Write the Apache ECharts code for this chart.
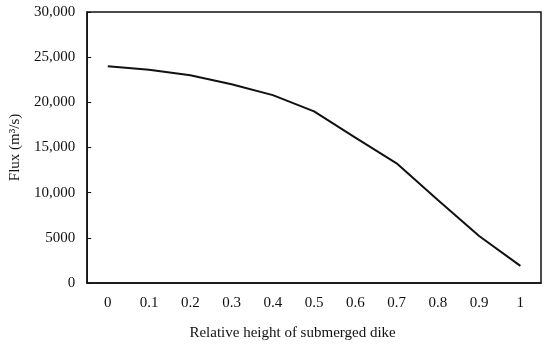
<!DOCTYPE html>
<html>
<head>
<meta charset="utf-8">
<script src="https://cdn.jsdelivr.net/npm/echarts@6/dist/echarts.min.js"></script>
<style>html,body{margin:0;padding:0;background:#fff}#c{width:550px;height:346px}</style>
</head>
<body>
<div id="c"></div>
<script>
var categories = ['0','0.1','0.2','0.3','0.4','0.5','0.6','0.7','0.8','0.9','1'];
var flux = [24000, 23600, 23000, 22000, 20800, 19000, 16100, 13250, 9200, 5200, 1900];
var xTitle = 'Relative height of submerged dike';
var yTitle = 'Flux (m\u00B3/s)';

var chart = echarts.init(document.getElementById('c'), null, {renderer: 'canvas'});
var font = 'Liberation Serif';
chart.setOption({
  animation: false,
  backgroundColor: '#fff',
  grid: {left: 84, right: 9, top: 12, bottom: 63, show: true, borderColor: '#111', borderWidth: 1.5, backgroundColor: 'transparent'},
  xAxis: {
    type: 'category', data: categories, boundaryGap: true,
    name: xTitle, nameLocation: 'middle', nameGap: 43,
    nameTextStyle: {fontFamily: font, fontSize: 15, color: '#111', padding: [0, 43, 0, 0]},
    axisLine: {lineStyle: {color: '#111', width: 1.5}},
    axisTick: {inside: true, alignWithLabel: true, length: 4, lineStyle: {color: '#111'}},
    axisLabel: {fontFamily: font, fontSize: 15, color: '#111', margin: 13},
    splitLine: {show: false}
  },
  yAxis: {
    type: 'value', min: 0, max: 30000, interval: 5000,
    name: yTitle, nameLocation: 'middle', nameGap: 62,
    nameTextStyle: {fontFamily: font, fontSize: 15, color: '#111'},
    axisLine: {show: true, lineStyle: {color: '#111', width: 1.5}},
    axisTick: {show: true, inside: true, length: 4, lineStyle: {color: '#111'}},
    axisLabel: {fontFamily: font, fontSize: 15, color: '#111', margin: 12,
      formatter: function (v) { return v >= 10000 ? v.toLocaleString('en-US') : String(v); }},
    splitLine: {show: false}
  },
  series: [{
    type: 'line', data: flux, showSymbol: false, symbol: 'none',
    lineStyle: {color: '#111', width: 2}
  }]
});
</script>
</body>
</html>
